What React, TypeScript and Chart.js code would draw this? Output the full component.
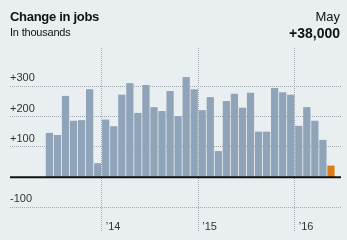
import React, { useEffect, useRef } from "react";
import { Chart, registerables } from "chart.js";

Chart.register(...registerables);

// Months from June 2013 to May 2016
const months = [
  "Jun 2013", "Jul 2013", "Aug 2013", "Sep 2013", "Oct 2013", "Nov 2013", "Dec 2013",
  "Jan 2014", "Feb 2014", "Mar 2014", "Apr 2014", "May 2014", "Jun 2014", "Jul 2014", "Aug 2014", "Sep 2014", "Oct 2014", "Nov 2014", "Dec 2014",
  "Jan 2015", "Feb 2015", "Mar 2015", "Apr 2015", "May 2015", "Jun 2015", "Jul 2015", "Aug 2015", "Sep 2015", "Oct 2015", "Nov 2015", "Dec 2015",
  "Jan 2016", "Feb 2016", "Mar 2016", "Apr 2016", "May 2016",
];

// Change in jobs, thousands
const jobChanges = [
  146, 139, 268, 186, 188, 290, 46,
  190, 168, 272, 310, 212, 304, 231, 218, 284, 201, 330, 290,
  221, 264, 86, 251, 275, 229, 278, 150, 150, 294, 280, 272,
  169, 231, 186, 123, 38,
];

const yTickValues = [-100, 100, 200, 300];
const yearLabels = ["\u201914", "\u201915", "\u201916"];

const BAR_COLOR = "#8fa3b9";
const HIGHLIGHT_COLOR = "#e07a16";
const GRID_COLOR = "#a4a9ae";
const FONT = "'Liberation Sans', Arial, sans-serif";

const yearTickPositions = months
  .map((m, i) => (m.startsWith("Jan") ? i - 0.5 : null))
  .filter((v) => v !== null) as number[];

const zeroLine = {
  id: "zeroLine",
  afterDatasetsDraw(chart: any) {
    const { ctx, chartArea, scales } = chart;
    const py = scales.y.getPixelForValue(0);
    ctx.save();
    ctx.strokeStyle = "#111";
    ctx.lineWidth = 2;
    ctx.beginPath();
    ctx.moveTo(chartArea.left, py);
    ctx.lineTo(chartArea.right, py);
    ctx.stroke();
    ctx.restore();
  },
};

export default function App() {
  const ref = useRef<HTMLCanvasElement>(null);

  useEffect(() => {
    const canvas = ref.current;
    if (!canvas) return;
    const last = jobChanges.length - 1;
    const chart = new Chart(canvas, {
      type: "bar",
      data: {
        datasets: [
          {
            data: jobChanges.map((v, i) => ({ x: i, y: v })),
            backgroundColor: jobChanges.map((_, i) => (i === last ? HIGHLIGHT_COLOR : BAR_COLOR)),
            borderWidth: 0,
            barPercentage: 0.9,
            categoryPercentage: 1,
          },
        ],
      },
      options: {
        responsive: false,
        animation: false,
        devicePixelRatio: 1,
        layout: { padding: { left: 10, right: 6, top: 48, bottom: 8 } },
        plugins: { legend: { display: false }, tooltip: { enabled: false }, title: { display: false } },
        scales: {
          x: {
            type: "linear",
            min: -4.9,
            max: 36.25,
            offset: false,
            position: "bottom",
            afterFit: (s: any) => {
              s.height = 0;
            },
            afterBuildTicks: (s: any) => {
              s.ticks = yearTickPositions.map((v) => ({ value: v }));
            },
            grid: { offset: false, color: GRID_COLOR, lineWidth: 1, drawTicks: false },
            border: { display: false, dash: [1, 1] },
            ticks: {
              mirror: true,
              align: "start",
              labelOffset: 4,
              padding: -1.5,
              color: "#333",
              font: { family: FONT, size: 11 },
              maxRotation: 0,
              autoSkip: false,
              callback: (value: any) => {
                const idx = yearTickPositions.indexOf(Number(value));
                return idx >= 0 ? yearLabels[idx] : "";
              },
            },
          },
          y: {
            type: "linear",
            min: -181,
            max: 426,
            position: "left",
            afterFit: (s: any) => {
              s.width = 0;
            },
            afterBuildTicks: (s: any) => {
              s.ticks = yTickValues.map((v) => ({ value: v }));
            },
            grid: { color: GRID_COLOR, lineWidth: 1, drawTicks: false },
            border: { display: false, dash: [1, 1] },
            ticks: {
              mirror: true,
              padding: 0,
              labelOffset: -8,
              color: "#333",
              font: { family: FONT, size: 11 },
              callback: (value: any) => (Number(value) > 0 ? "+" + value : String(value)),
            },
          },
        },
      },
      plugins: [zeroLine],
    });
    return () => chart.destroy();
  }, []);

  const text: React.CSSProperties = {
    position: "absolute",
    fontFamily: FONT,
    lineHeight: 1,
    color: "#111",
    whiteSpace: "nowrap",
  };

  return (
    <div
      style={{
        position: "fixed",
        left: 0,
        top: 0,
        width: 347,
        height: 240,
        background: "#e9eef1",
        overflow: "hidden",
      }}
    >
      <canvas ref={ref} width={347} height={240} style={{ position: "absolute", left: 0, top: 0 }} />
      <div style={{ ...text, left: 10, top: 10, fontSize: 13, fontWeight: 700, letterSpacing: -0.3 }}>
        Change in jobs
      </div>
      <div style={{ ...text, left: 10, top: 27, fontSize: 11, letterSpacing: -0.2 }}>In thousands</div>
      <div style={{ ...text, right: 7, top: 10, fontSize: 13 }}>May</div>
      <div style={{ ...text, right: 7, top: 26, fontSize: 14, fontWeight: 700 }}>+38,000</div>
    </div>
  );
}
